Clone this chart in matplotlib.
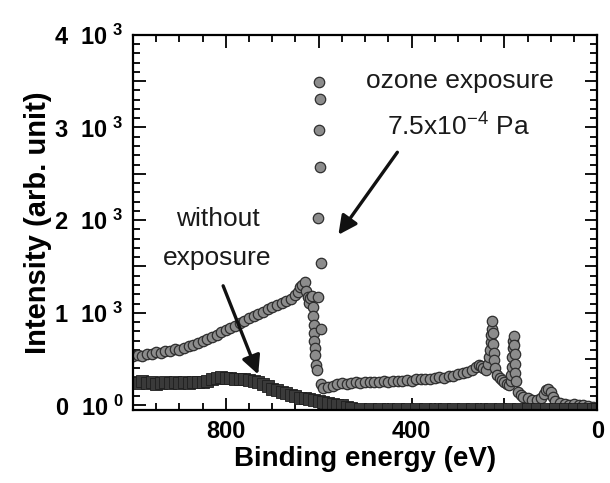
import matplotlib
matplotlib.use("Agg")
import matplotlib.pyplot as plt
from matplotlib.ticker import MultipleLocator, FuncFormatter

plt.rcParams['font.family'] = ['Liberation Sans', 'DejaVu Sans']
plt.rcParams['mathtext.fontset'] = 'custom'
plt.rcParams['mathtext.rm'] = 'Liberation Sans'
plt.rcParams['mathtext.bf'] = 'Liberation Sans:bold'
plt.rcParams['mathtext.default'] = 'rm'

# ozone exposure 7.5x10^-4 Pa (binding energy eV, intensity)
ozone_ev = [1000, 990, 980, 970, 960, 950, 940, 930, 920, 910, 900, 890, 880, 870, 860,
            850, 840, 830, 820, 810, 800, 790, 780, 770, 760, 750, 740, 730, 720, 710,
            700, 690, 680, 670, 660, 650, 645, 640, 635, 630, 627, 624, 621, 618, 615,
            613, 612, 611, 610, 609, 608, 607, 605, 603, 602, 601, 600, 599, 598, 597,
            596, 595, 594, 590, 580, 570, 560, 550, 540, 530, 520, 510, 500, 490, 480,
            470, 460, 450, 440, 430, 420, 410, 400, 390, 380, 370, 360, 350, 340, 330,
            320, 310, 300, 290, 280, 270, 260, 255, 250, 245, 240, 236, 232, 230, 229,
            228, 227, 226, 225, 224, 223, 222, 220, 215, 210, 205, 200, 195, 190, 186,
            185, 184, 183, 182, 181, 180, 179, 178, 177, 176, 175, 170, 165, 160, 150,
            140, 130, 120, 115, 110, 105, 100, 95, 90, 80, 70, 60, 50, 40, 30, 20, 10, 0]
ozone_int = [536, 545, 530, 560, 555, 575, 570, 590, 585, 605, 600, 625, 640, 655, 675,
             695, 715, 740, 760, 790, 815, 835, 860, 885, 910, 940, 960, 985, 1010, 1040,
             1065, 1085, 1105, 1125, 1150, 1190, 1220, 1280, 1300, 1330, 1240, 1170, 1110, 1160, 1180,
             1060, 960, 870, 780, 700, 620, 540, 440, 380, 1170, 2020, 2975, 3490, 3310, 2570,
             1540, 820, 230, 185, 200, 215, 230, 240, 235, 245, 250, 245, 255, 250, 255,
             250, 260, 255, 265, 260, 265, 270, 265, 280, 285, 290, 285, 300, 305, 300,
             315, 320, 335, 345, 360, 385, 420, 440, 430, 400, 380, 450, 520, 600, 680,
             760, 830, 907, 780, 660, 570, 490, 400, 330, 300, 270, 250, 230, 220, 260,
             330, 420, 520, 620, 700, 748, 650, 550, 450, 350, 260, 150, 110, 90, 75,
             60, 55, 80, 120, 170, 182, 140, 90, 50, 25, 15, 10, 20, 5, 0, -10, -20, -30]

# without exposure
clean_ev = [1000, 990, 980, 970, 960, 950, 940, 930, 920, 910, 900, 890, 880, 870, 860,
            850, 840, 830, 820, 810, 800, 790, 780, 770, 760, 750, 740, 730, 720, 710,
            700, 690, 680, 670, 660, 650, 640, 630, 620, 610, 600, 590, 580, 570, 560,
            550, 540, 530, 510, 490, 470, 450, 430, 410, 390, 370, 350, 330, 310, 290,
            270, 250, 230, 210, 190, 170, 150, 130, 110, 90, 70, 50, 30, 10, 0]
clean_int = [253, 245, 260, 240, 250, 235, 245, 255, 240, 250, 246, 255, 240, 250, 255,
             253, 265, 280, 295, 306, 300, 295, 290, 288, 285, 270, 260, 253, 230, 205,
             182, 165, 150, 130, 115, 100, 85, 75, 65, 55, 45, 35, 25, 20, 10,
             0, -15, -30, -35, -40, -38, -42, -40, -37, -40, -42, -38, -40, -41, -39,
             -40, -38, -42, -40, -37, -40, -41, -38, -40, -42, -39, -40, -38, -41, -40]

fig = plt.figure(figsize=(6.1, 4.83), dpi=100)
ax = fig.add_axes([0.218, 0.151, 0.761, 0.777])

ax.plot(ozone_ev, ozone_int, linestyle='none', marker='o', markersize=7.5,
        markerfacecolor='#8c8c8c', markeredgecolor='#2e2e2e', markeredgewidth=0.9)
ax.plot(clean_ev, clean_int, linestyle='none', marker='s', markersize=8,
        markerfacecolor='#3a3a3a', markeredgecolor='#1e1e1e', markeredgewidth=0.6)

ax.set_xlim(1000, 0)
ax.set_ylim(-50, 4000)

ax.xaxis.set_major_locator(MultipleLocator(200))
ax.xaxis.set_minor_locator(MultipleLocator(50))
ax.xaxis.set_major_formatter(FuncFormatter(lambda v, p: f"{int(v)}" if int(round(v)) % 400 == 0 else ""))
ax.yaxis.set_major_locator(MultipleLocator(500))
ax.yaxis.set_minor_locator(MultipleLocator(100))

def ylab(v, p):
    v = int(round(v))
    if v % 1000:
        return ""
    if v == 0:
        return r"0  10$^{\ \mathbf{0}}$"
    return r"%d  10$^{\ \mathbf{3}}$" % (v // 1000)

ax.yaxis.set_major_formatter(FuncFormatter(ylab))

ax.tick_params(which='both', direction='in', top=True, right=True, width=1.3)
ax.tick_params(which='major', length=9, labelsize=17, pad=7)
ax.tick_params(which='minor', length=5)
for lab in ax.get_xticklabels() + ax.get_yticklabels():
    lab.set_fontweight('bold')
for s in ax.spines.values():
    s.set_linewidth(1.6)

ax.set_xlabel('Binding energy (eV)', fontsize=20, fontweight='bold', labelpad=2)
ax.set_ylabel('Intensity (arb. unit)', fontsize=21, fontweight='bold', labelpad=2)

ax.text(0.705, 0.877, 'ozone exposure', transform=ax.transAxes, fontsize=19,
        ha='center', va='center', color='#1a1a1a')
ax.text(0.70, 0.755, r'7.5x10$^{-4}$ Pa', transform=ax.transAxes, fontsize=19,
        ha='center', va='center', color='#1a1a1a')
ax.text(0.184, 0.509, 'without', transform=ax.transAxes, fontsize=19,
        ha='center', va='center', color='#1a1a1a')
ax.text(0.182, 0.405, 'exposure', transform=ax.transAxes, fontsize=19,
        ha='center', va='center', color='#1a1a1a')

arrow = dict(arrowstyle='-|>', lw=2.4, color='#111111', mutation_scale=28)
ax.annotate('', xy=(0.439, 0.461), xytext=(0.573, 0.693),
            xycoords='axes fraction', textcoords='axes fraction', arrowprops=arrow)
ax.annotate('', xy=(0.272, 0.088), xytext=(0.192, 0.338),
            xycoords='axes fraction', textcoords='axes fraction', arrowprops=arrow)

fig.savefig('out.png', dpi=100)
